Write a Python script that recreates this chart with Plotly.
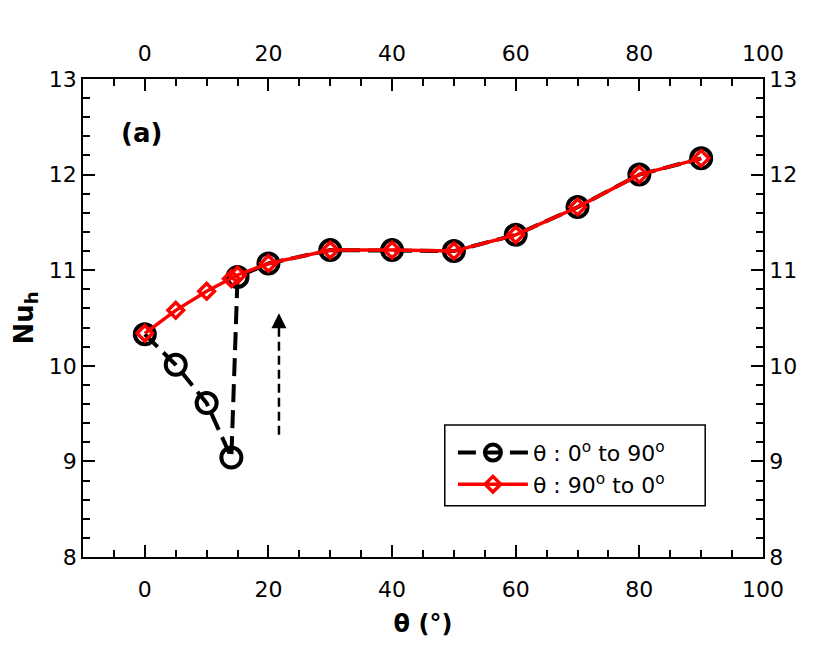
import plotly.graph_objects as go

# theta sweep 0 -> 90 (black) and 90 -> 0 (red)
theta_up = [0, 5, 10, 14, 15, 20, 30, 40, 50, 60, 70, 80, 90]
nu_up = [10.33, 10.01, 9.61, 9.04, 10.93, 11.07, 11.21, 11.21, 11.2, 11.37, 11.66, 12.0, 12.17]

theta_down = [0, 5, 10, 14, 15, 20, 30, 40, 50, 60, 70, 80, 90]
nu_down = [10.34, 10.58, 10.78, 10.91, 10.95, 11.07, 11.21, 11.21, 11.2, 11.37, 11.66, 12.0, 12.17]

x_ticks = [0, 20, 40, 60, 80, 100]
y_ticks = [8, 9, 10, 11, 12, 13]

FONT = "DejaVu Sans"

fig = go.Figure()

fig.add_trace(
	go.Scatter(
		x=theta_up,
		y=nu_up,
		mode='lines+markers',
		name="θ : 0<sup>o</sup> to 90<sup>o</sup>",
		line=dict(color='black', width=4, dash='18px,8px'),
		marker=dict(symbol='circle-open', size=20, color='black', line=dict(width=4))
	)
)

fig.add_trace(
	go.Scatter(
		x=theta_down,
		y=nu_down,
		mode='lines+markers',
		name="θ : 90<sup>o</sup> to 0<sup>o</sup>",
		line=dict(color='red', width=3.5),
		marker=dict(symbol='diamond-open', size=12, color='red', line=dict(width=3.5))
	)
)

# invisible trace to activate the top/right axes
fig.add_trace(
	go.Scatter(x=[0], y=[8], xaxis='x2', yaxis='y2', mode='markers',
		marker=dict(opacity=0), showlegend=False, hoverinfo='skip')
)

# dashed arrow
fig.add_shape(type='line', x0=21.7, x1=21.7, y0=9.28, y1=10.42,
	line=dict(color='black', width=2.5, dash='9px,5px'))
fig.add_annotation(x=21.7, y=10.55, ax=0, ay=14, showarrow=True,
	arrowhead=2, arrowsize=1.2, arrowwidth=2.5, arrowcolor='black', text='')

fig.add_annotation(x=-0.5, y=12.44, text="<b>(a)</b>", showarrow=False,
	font=dict(family=FONT, size=26, color='black'))

# legend frame (drawn separately so it can be wider than the entries)
fig.add_shape(type='rect', xref='paper', yref='paper',
	x0=0.532, x1=0.915, y0=0.107, y1=0.276,
	line=dict(color='black', width=1.5), fillcolor='white', layer='below')

axis_common = dict(
	ticks='inside',
	ticklen=12,
	tickwidth=1.5,
	tickcolor='black',
	showline=True,
	linecolor='black',
	linewidth=1.5,
	showgrid=False,
	zeroline=False,
	automargin=False,
	tickfont=dict(family=FONT, size=22, color='black'),
)

# page body adds 8px offset, so margins are shifted to compensate
fig.update_layout(
	width=830,
	height=651,
	margin=dict(l=75, r=75, t=71, b=102),
	plot_bgcolor='white',
	paper_bgcolor='white',
	font=dict(family=FONT, color='black'),
	xaxis=dict(
		range=[-10, 100],
		tickvals=x_ticks,
		ticklabelstandoff=12,
		minor=dict(dtick=5, ticklen=7, tickwidth=1.5, tickcolor='black', ticks='inside'),
		title=dict(text="<b>θ (°)</b>", font=dict(family=FONT, size=24), standoff=14),
		**axis_common
	),
	xaxis2=dict(
		range=[-10, 100],
		tickvals=x_ticks,
		overlaying='x',
		side='top',
		ticklabelstandoff=7,
		minor=dict(dtick=5, ticklen=7, tickwidth=1.5, tickcolor='black', ticks='inside'),
		**axis_common
	),
	yaxis=dict(
		range=[8, 13],
		tickvals=y_ticks,
		minor=dict(dtick=0.2, ticklen=7, tickwidth=1.5, tickcolor='black', ticks='inside'),
		title=dict(text="<b>Nu<sub>h</sub></b>", font=dict(family=FONT, size=26), standoff=8),
		**axis_common
	),
	yaxis2=dict(
		range=[8, 13],
		tickvals=y_ticks,
		overlaying='y',
		side='right',
		minor=dict(dtick=0.2, ticklen=7, tickwidth=1.5, tickcolor='black', ticks='inside'),
		**axis_common
	),
	legend=dict(
		x=0.544, y=0.262,
		xanchor='left', yanchor='top',
		bgcolor='rgba(0,0,0,0)',
		borderwidth=0,
		itemwidth=70,
		tracegroupgap=0,
		font=dict(family=FONT, size=22, color='black'),
	),
	showlegend=True,
)

fig.write_html("out.html")
